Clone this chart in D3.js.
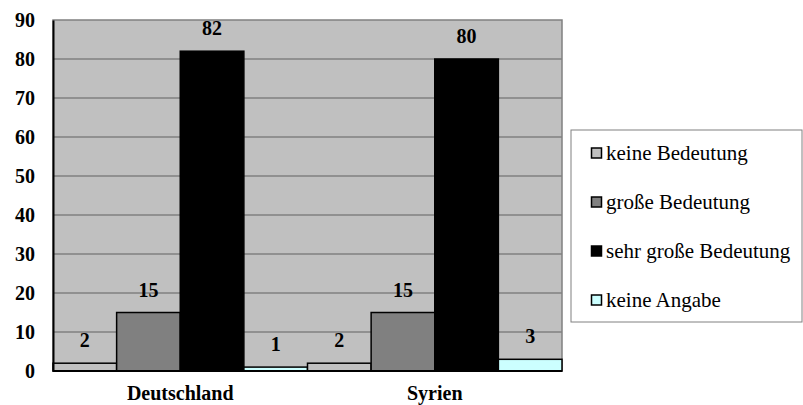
<!DOCTYPE html>
<html>
<head>
<meta charset="utf-8">
<script src="https://cdn.jsdelivr.net/npm/d3@7"></script>
<style>
  html, body { margin: 0; padding: 0; background: #fff; }
  svg { display: block; }
  svg text { font-family: "Liberation Serif", "Times New Roman", Tinos, "DejaVu Serif", serif; }
</style>
</head>
<body>
<svg id="chart" width="803" height="405"></svg>
<script>
// Categories, series and axis ticks
const categories = ["Deutschland", "Syrien"];
const seriesNames = ["keine Bedeutung", "große Bedeutung", "sehr große Bedeutung", "keine Angabe"];
const keineBedeutung = [2, 2];
const grosseBedeutung = [15, 15];
const sehrGrosseBedeutung = [82, 80];
const keineAngabe = [1, 3];
const yTicks = [0, 10, 20, 30, 40, 50, 60, 70, 80, 90];
const seriesColors = ["#c0c0c0", "#808080", "#000000", "#ccffff"];

const seriesValues = [keineBedeutung, grosseBedeutung, sehrGrosseBedeutung, keineAngabe];
const serif = "\"Liberation Serif\", \"Times New Roman\", Tinos, \"DejaVu Serif\", serif";

const svg = d3.select("#chart");
const plot = { left: 53, top: 20, right: 562, bottom: 371 };

const y = d3.scaleLinear().domain([0, 90]).range([plot.bottom, plot.top]);
const x0 = d3.scaleBand().domain(categories).range([plot.left, plot.right]).padding(0);
const x1 = d3.scaleBand().domain(d3.range(seriesNames.length)).range([0, x0.bandwidth()]).padding(0);

// Plot area background
svg.append("rect")
  .attr("x", plot.left).attr("y", plot.top)
  .attr("width", plot.right - plot.left).attr("height", plot.bottom - plot.top)
  .attr("fill", "#c0c0c0");

// Horizontal gridlines
svg.append("g")
  .selectAll("line")
  .data(yTicks.filter(t => t > 0 && t < 90))
  .join("line")
  .attr("x1", plot.left).attr("x2", plot.right)
  .attr("y1", d => y(d)).attr("y2", d => y(d))
  .attr("stroke", "#808080").attr("stroke-width", 1.5);

// Plot border
svg.append("rect")
  .attr("x", plot.left).attr("y", plot.top)
  .attr("width", plot.right - plot.left).attr("height", plot.bottom - plot.top)
  .attr("fill", "none").attr("stroke", "#808080").attr("stroke-width", 1.5);

// Bars with value labels
const groups = svg.append("g")
  .selectAll("g")
  .data(categories)
  .join("g")
  .attr("transform", d => `translate(${x0(d)},0)`);

groups.each(function (cat, ci) {
  const g = d3.select(this);
  seriesValues.forEach((vals, si) => {
    const v = vals[ci];
    g.append("rect")
      .attr("x", x1(si))
      .attr("y", y(v))
      .attr("width", x1.bandwidth())
      .attr("height", y(0) - y(v))
      .attr("fill", seriesColors[si])
      .attr("stroke", "#000").attr("stroke-width", 1.5);
    g.append("text")
      .attr("x", x1(si) + x1.bandwidth() / 2)
      .attr("y", y(v) - 16)
      .attr("text-anchor", "middle")
      .style("font-family", serif)
      .attr("font-weight", "bold")
      .attr("font-size", 20)
      .attr("fill", "#000")
      .text(v);
  });
});

// Baseline
svg.append("line")
  .attr("x1", plot.left).attr("x2", plot.right)
  .attr("y1", y(0)).attr("y2", y(0))
  .attr("stroke", "#000").attr("stroke-width", 2);

// Y axis
const yAxis = svg.append("g")
  .attr("transform", `translate(${plot.left},0)`)
  .call(d3.axisLeft(y).tickValues(yTicks).tickSize(0).tickPadding(18));
yAxis.select(".domain").attr("stroke", "#000").attr("stroke-width", 2);
yAxis.selectAll("text")
  .style("font-family", serif)
  .attr("font-weight", "bold")
  .attr("font-size", 20)
  .attr("fill", "#000");

// X axis labels
const xAxis = svg.append("g")
  .attr("transform", `translate(0,${plot.bottom})`)
  .call(d3.axisBottom(x0).tickSize(0).tickPadding(15));
xAxis.select(".domain").remove();
xAxis.selectAll("text")
  .style("font-family", serif)
  .attr("font-weight", "bold")
  .attr("font-size", 20)
  .attr("fill", "#000");

// Legend
const legend = svg.append("g");
legend.append("rect")
  .attr("x", 571).attr("y", 130)
  .attr("width", 231).attr("height", 192)
  .attr("fill", "#fff").attr("stroke", "#808080").attr("stroke-width", 1);

const legendItems = legend.selectAll("g.item")
  .data(seriesNames)
  .join("g")
  .attr("class", "item")
  .attr("transform", (d, i) => `translate(591,${153 + i * 49})`);

legendItems.append("rect")
  .attr("x", 0.5).attr("y", -5)
  .attr("width", 10).attr("height", 10)
  .attr("fill", (d, i) => seriesColors[i])
  .attr("stroke", "#000").attr("stroke-width", 1.5);

legendItems.append("text")
  .attr("x", 15).attr("y", 0)
  .attr("dy", "0.35em")
  .style("font-family", serif)
  .attr("font-size", 21)
  .attr("fill", "#000")
  .text(d => d);
</script>
</body>
</html>
